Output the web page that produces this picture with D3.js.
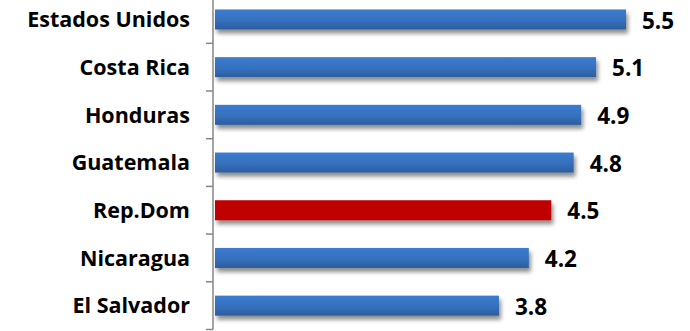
<!DOCTYPE html>
<html><head><meta charset="utf-8">
<script src="https://cdn.jsdelivr.net/npm/d3@7"></script>
<style>body{margin:0;background:#fff}svg{display:block}</style>
</head><body><svg id="c" width="690" height="331"></svg>
<script>
const categories = ["Estados Unidos","Costa Rica","Honduras","Guatemala","Rep.Dom","Nicaragua","El Salvador"];
const values = [5.5,5.1,4.9,4.8,4.5,4.2,3.8];
const highlight = ["Rep.Dom"];

const svg = d3.select("#c");
const x0 = 215;
const x = d3.scaleLinear().domain([0,5.5]).range([x0,626]);
const y = d3.scaleBand().domain(categories).range([-4.4,329.5]).paddingInner(0.58).paddingOuter(0.29);

const defs = svg.append("defs");
const g1 = defs.append("linearGradient").attr("id","blue").attr("x1",0).attr("y1",0).attr("x2",0).attr("y2",1);
g1.append("stop").attr("offset","0%").attr("stop-color","#3c7cce");
g1.append("stop").attr("offset","55%").attr("stop-color","#3570bd");
g1.append("stop").attr("offset","100%").attr("stop-color","#2c5d9c");
const f = defs.append("filter").attr("id","sh").attr("x","-5%").attr("y","-20%").attr("width","115%").attr("height","190%");
f.append("feGaussianBlur").attr("in","SourceAlpha").attr("stdDeviation",2.2);
f.append("feOffset").attr("dx",2).attr("dy",4).attr("result","b");
f.append("feComponentTransfer").append("feFuncA").attr("type","linear").attr("slope",0.45);
const m = f.append("feMerge");
m.append("feMergeNode");
m.append("feMergeNode").attr("in","SourceGraphic");

svg.selectAll("rect.bar").data(categories).enter().append("rect")
  .attr("class","bar")
  .attr("x", x(0))
  .attr("y", d=>y(d))
  .attr("height", y.bandwidth())
  .attr("width", (d,i)=>x(values[i])-x(0))
  .attr("fill", d=>highlight.includes(d)?"#c00000":"url(#blue)")
  .attr("filter","url(#sh)");

// axis
const step = y.step();
const axisX = 213;
const ag = svg.append("g").attr("stroke","#868686").attr("stroke-width",1.5);
ag.append("line").attr("x1",axisX).attr("x2",axisX).attr("y1",-5).attr("y2",329.5);
const tickYs = d3.range(categories.length).map(i=>y(categories[i]) - (step - y.bandwidth())/2 + step);
tickYs.forEach(t=>ag.append("line").attr("x1",axisX-7).attr("x2",axisX).attr("y1",t).attr("y2",t));

const font = "'Open Sans', sans-serif";
svg.selectAll("text.cat").data(categories).enter().append("text")
  .attr("class","cat")
  .attr("x",190).attr("y",d=>y(d)+y.bandwidth()/2)
  .attr("dy","0.36em")
  .attr("text-anchor","end")
  .attr("font-family",font).attr("font-weight","bold").attr("font-size","21.5px")
  .attr("fill","#000")
  .text(d=>d);

svg.selectAll("text.val").data(categories).enter().append("text")
  .attr("class","val")
  .attr("x",(d,i)=>x(values[i])+16).attr("y",d=>y(d)+y.bandwidth()/2+1)
  .attr("dy","0.36em")
  .attr("font-family",font).attr("font-weight","bold").attr("font-size","22.5px")
  .attr("fill","#000")
  .text((d,i)=>d3.format(".1f")(values[i]));
</script></body></html>
